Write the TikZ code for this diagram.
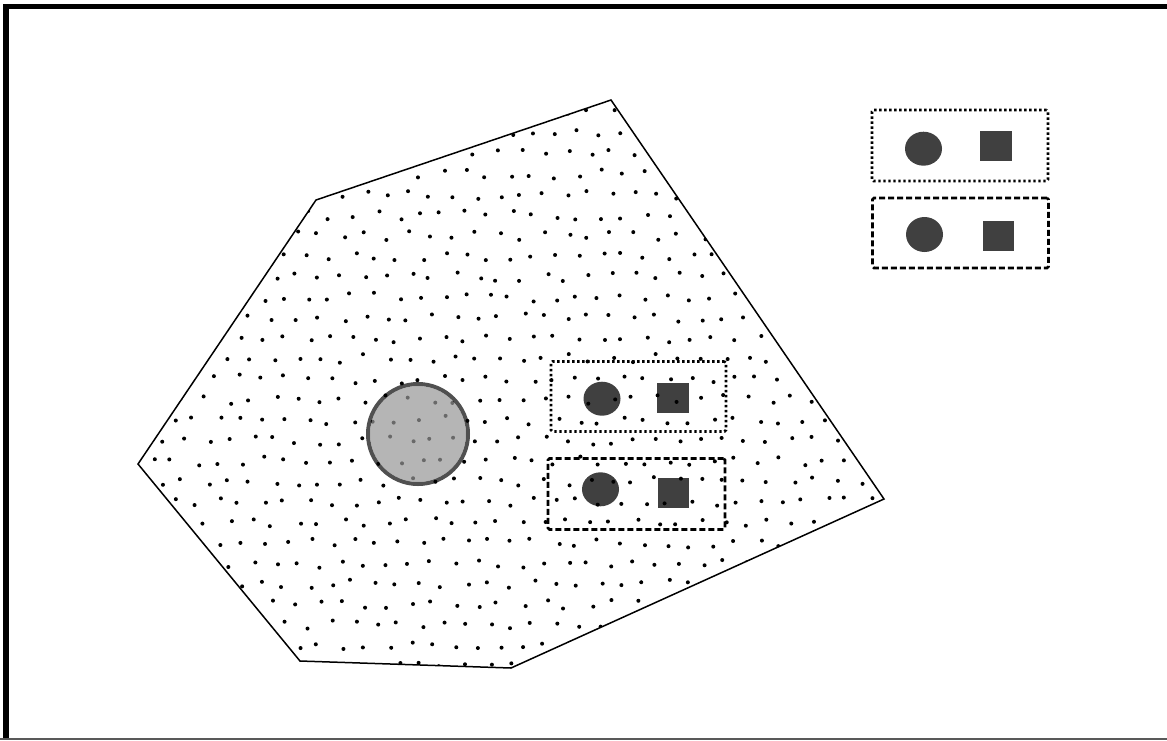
\documentclass[tikz,border=0pt]{standalone}
\usetikzlibrary{calc,shapes.geometric}
\definecolor{shapegray}{RGB}{64,64,64}
\definecolor{ringgray}{RGB}{80,80,80}
\definecolor{discgray}{RGB}{150,150,150}
\tikzset{
  dotbox/.style={draw, line width=2.6pt, dash pattern=on 2.4pt off 2.6pt, rounded corners=1.5pt},
  dashbox/.style={draw, line width=2.6pt, dash pattern=on 6pt off 3pt, rounded corners=1.5pt},
  disc/.style={ellipse, fill=shapegray, inner sep=0pt},
  blk/.style={rectangle, fill=shapegray, inner sep=0pt},
}
\begin{document}
\begin{tikzpicture}[x=1pt,y=-1pt]
\useasboundingbox (0,0) rectangle (1167,740);
% frame
\fill[black] (3,3.5) rectangle (1167,8.5);
\fill[black] (3,3.5) rectangle (9,740);
\draw[black!65, line width=1.2pt] (0,739) -- (1167,739);
% polygon
\coordinate (p1) at (316,200);
\coordinate (p2) at (611,100);
\coordinate (p3) at (884,499);
\coordinate (p4) at (511,668);
\coordinate (p5) at (300,661);
\coordinate (p6) at (138,464);
\draw[line width=1.5pt, line join=miter] (p1) -- (p2) -- (p3) -- (p4) -- (p5) -- (p6) -- cycle;
% boxes inside polygon
\node[dotbox, minimum width=175pt, minimum height=70pt] (boxA) at (638.5,396.5) {};
\node[disc, minimum width=37pt, minimum height=34pt] (cA) at (602,398.7) {};
\node[blk, minimum width=32pt, minimum height=30pt] (sA) at (673,397.7) {};
\node[dashbox, minimum width=177pt, minimum height=71pt] (boxB) at (636.5,494) {};
\node[disc, minimum width=37pt, minimum height=34pt] (cB) at (600.5,489.3) {};
\node[blk, minimum width=31pt, minimum height=30pt] (sB) at (673.5,493) {};
% big circle ring
\draw[ringgray, line width=4pt] (418,434) circle (50);
% dots
\pgfmathsetseed{12345}
\begin{scope}
\clip (p1) -- (p2) -- (p3) -- (p4) -- (p5) -- (p6) -- cycle;
\foreach \j in {0,...,28}{
  \foreach \i in {0,...,34}{
    \pgfmathsetmacro\xx{128+\i*22.5+mod(\j,2)*11.25+4.5*rand}
    \pgfmathsetmacro\yy{92+\j*20.5+4.5*rand}
    \fill[black] (\xx,\yy) circle (2.0);
  }
}
\end{scope}
% big circle fill
\fill[discgray, fill opacity=0.7] (418,434) circle (48);
% boxes top right
\node[dotbox, minimum width=176pt, minimum height=71pt] (boxC) at (960,145.5) {};
\node[disc, minimum width=37pt, minimum height=34pt] (cC) at (923.5,148.7) {};
\node[blk, minimum width=32pt, minimum height=30pt] (sC) at (996,146) {};
\node[dashbox, minimum width=176pt, minimum height=70pt] (boxD) at (960.5,233) {};
\node[disc, minimum width=37pt, minimum height=35pt] (cD) at (924.5,234.5) {};
\node[blk, minimum width=31pt, minimum height=30pt] (sD) at (998.5,236) {};
\end{tikzpicture}
\end{document}
